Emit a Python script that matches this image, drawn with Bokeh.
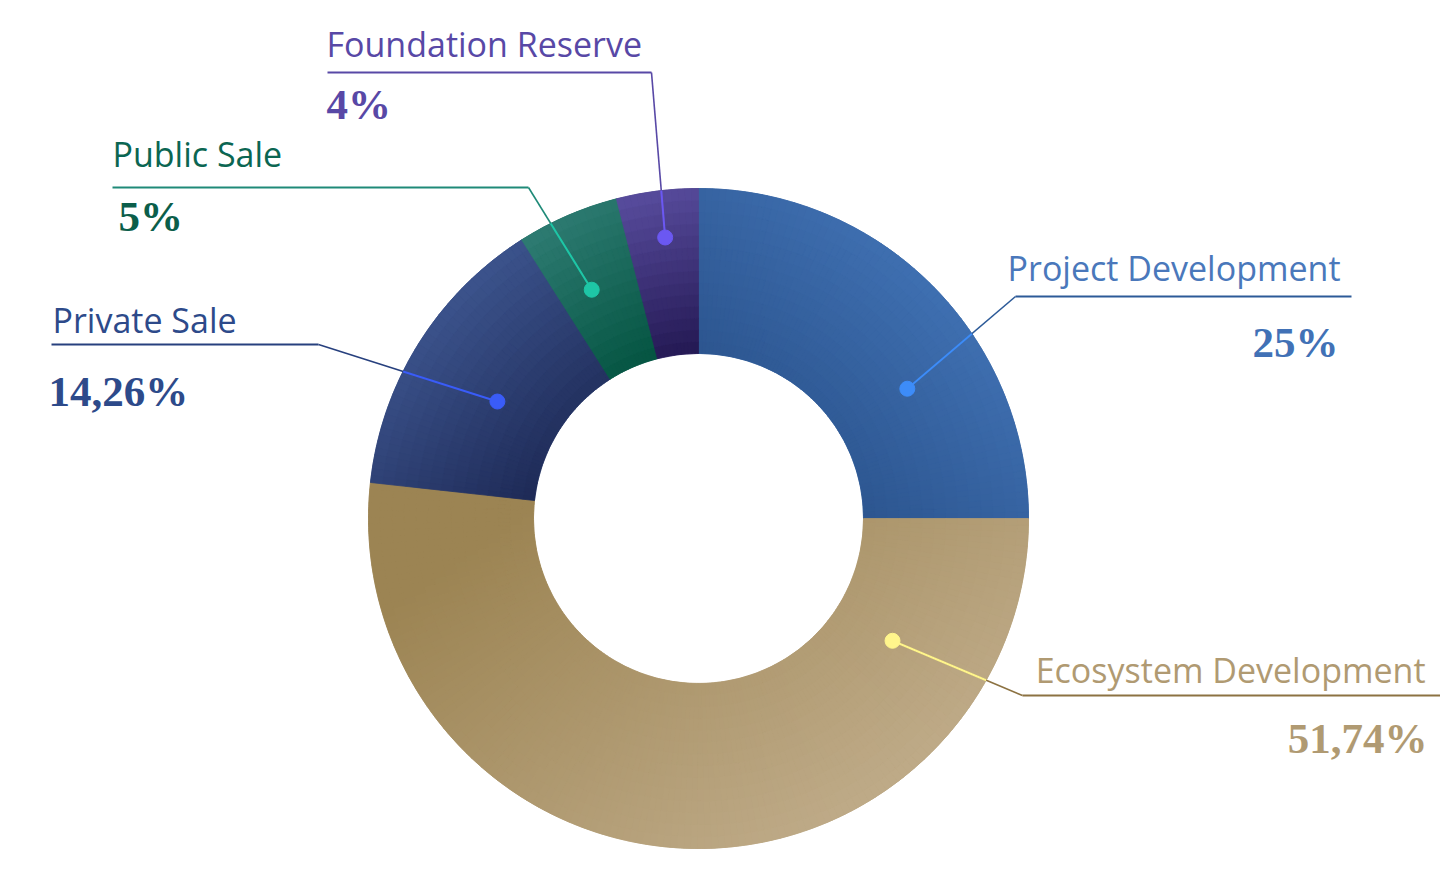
import numpy as np
from bokeh.plotting import figure
from bokeh.models import Range1d, ColumnDataSource
from bokeh.core.properties import value
from bokeh.embed import file_html
from bokeh.resources import INLINE

# ---------------- data ----------------
categories = ["Project Development", "Ecosystem Development", "Private Sale",
              "Public Sale", "Foundation Reserve"]
shares = [25.0, 51.74, 14.26, 5.0, 4.0]
pct_labels = ["25%", "51,74%", "14,26%", "5%", "4%"]

# ---------------- style ----------------
grad_c0 = ["#4b80c6", "#9c8453", "#4a67a6", "#36837c", "#5a4ea0"]   # colour at gradient start corner
grad_c1 = ["#22477d", "#c0ac8a", "#161f48", "#00503c", "#231852"]   # colour at opposite corner
grad_from = [(1.0, 1.0), (0.3, 1.0), (0.0, 1.0), (0.0, 1.0), (0.2, 1.0)]  # start corner (fx, fy) in bbox, y up
label_colors = ["#4a78bb", "#b09a72", "#2d4a8a", "#0b6652", "#5848a6"]
pct_colors = ["#4171b6", "#b09a72", "#2d4a8a", "#0b5e4a", "#5848a6"]
line_colors = ["#2c5a98", "#8c7242", "#27407e", "#1f8a78", "#5848a6"]
dot_colors = ["#3d8cf8", "#fff58c", "#3a5cf8", "#1ec6a6", "#6b58f2"]

# ---------------- layout (screen px) ----------------
W, H = 1440, 857
def sy(y):
    return 873 - y

LABEL_SHIFT = 13   # correction for baseline rendering
PCT_SHIFT = 12

CX, CY = 698, sy(518)
R_OUT, R_IN = 330, 165
dot_frac = [(0.646, 0.49), (0.173, 0.39), (0.466, 0.41), (0.41, 0.53), (0.53, 0.715)]
label_pos = [(1340, 280, "right"), (1425, 682, "right"), (52, 332, "left"),
             (112, 166, "left"), (326, 56, "left")]
pct_pos = [(1338, 354, "right"), (1427, 750, "right"), (48, 403, "left"),
           (118, 228, "left"), (326, 116, "left")]
underline = [(1351, 1015, 296), (1440, 1022, 695), (51, 318, 344),
             (112, 528, 187), (327, 651, 72)]   # (outer end x, elbow x, y)

p = figure(width=W, height=H, output_backend="svg", toolbar_location=None,
           x_range=Range1d(0, W), y_range=Range1d(sy(H), sy(0)),
           x_axis_location=None, y_axis_location=None, min_border=0,
           background_fill_color="white", border_fill_color="white")
p.grid.visible = False
p.outline_line_color = None


def hex2rgb(h):
    h = h.lstrip("#")
    return np.array([int(h[i:i + 2], 16) for i in (0, 2, 4)], dtype=float)


def rgb2hex(c):
    c = np.clip(np.round(c), 0, 255).astype(int)
    return "#%02x%02x%02x" % tuple(c)


total = sum(shares)
cum = 0.0
cells = dict(x=[], y=[], ir=[], orr=[], sa=[], ea=[], c=[])
base = dict(sa=[], ea=[], c=[])
slice_angles = []
for i, s in enumerate(shares):
    a_hi = np.pi / 2 - 2 * np.pi * cum / total
    a_lo = np.pi / 2 - 2 * np.pi * (cum + s) / total
    cum += s
    slice_angles.append((a_hi, a_lo))
    tt = np.linspace(a_lo, a_hi, 400)
    xs = np.concatenate([CX + R_OUT * np.cos(tt), CX + R_IN * np.cos(tt)])
    ys = np.concatenate([CY + R_OUT * np.sin(tt), CY + R_IN * np.sin(tt)])
    x0, x1, y0, y1 = xs.min(), xs.max(), ys.min(), ys.max()
    fx, fy = grad_from[i]
    p0 = np.array([x0 + fx * (x1 - x0), y0 + fy * (y1 - y0)])
    p1 = np.array([x0 + (1 - fx) * (x1 - x0), y0 + (1 - fy) * (y1 - y0)])
    dvec = p1 - p0
    L2 = dvec @ dvec
    c0, c1 = hex2rgb(grad_c0[i]), hex2rgb(grad_c1[i])
    base["sa"].append(a_lo)
    base["ea"].append(a_hi)
    base["c"].append(rgb2hex((c0 + c1) / 2))
    n_a = max(4, int(np.degrees(a_hi - a_lo) / 1.2))
    n_r = 14
    edges_a = np.linspace(a_lo, a_hi, n_a + 1)
    edges_r = np.linspace(R_IN, R_OUT, n_r + 1)
    for ia in range(n_a):
        am = 0.5 * (edges_a[ia] + edges_a[ia + 1])
        for ir in range(n_r):
            rm = 0.5 * (edges_r[ir] + edges_r[ir + 1])
            pt = np.array([CX + rm * np.cos(am), CY + rm * np.sin(am)])
            t = np.clip((pt - p0) @ dvec / L2, 0, 1)
            cells["x"].append(CX)
            cells["y"].append(CY)
            cells["ir"].append(edges_r[ir])
            cells["orr"].append(edges_r[ir + 1])
            cells["sa"].append(edges_a[ia])
            cells["ea"].append(edges_a[ia + 1])
            cells["c"].append(rgb2hex(c0 + t * (c1 - c0)))

p.annular_wedge(x=CX, y=CY, inner_radius=R_IN, outer_radius=R_OUT,
                start_angle="sa", end_angle="ea", fill_color="c", line_color="c",
                line_width=0.5, source=ColumnDataSource(base))
p.annular_wedge(x="x", y="y", inner_radius="ir", outer_radius="orr",
                start_angle="sa", end_angle="ea", fill_color="c", line_color="c",
                line_width=0.8, source=ColumnDataSource(cells))

# ---------------- leaders, dots and labels ----------------
for i, name in enumerate(categories):
    a_hi, a_lo = slice_angles[i]
    fa, fr = dot_frac[i]
    ang = a_hi - fa * (a_hi - a_lo)
    rad = R_IN + fr * (R_OUT - R_IN)
    dx, dy = CX + rad * np.cos(ang), CY + rad * np.sin(ang)
    xe, xb, yl = underline[i]
    ex, ey = xb, sy(yl)
    p.line([xe, xb], [sy(yl), sy(yl)], line_color=line_colors[i], line_width=2)
    p.line([ex, dx], [ey, dy], line_color=line_colors[i], line_width=1.6)
    d = np.array([dx, dy]); e = np.array([ex, ey]); c = np.array([CX, CY])
    v = e - d; w = d - c
    A = v @ v; B = 2 * (v @ w); C = w @ w - R_OUT ** 2
    tcross = (-B + np.sqrt(B * B - 4 * A * C)) / (2 * A)
    q = d + min(max(tcross, 0), 1) * v
    p.line([dx, q[0]], [dy, q[1]], line_color=dot_colors[i], line_width=2)
    p.scatter([dx], [dy], size=15, fill_color=dot_colors[i], line_color=dot_colors[i])

    lx, ly, al = label_pos[i]
    p.text([lx], [sy(ly) + LABEL_SHIFT], text=[name], text_align=al, text_baseline="alphabetic",
           text_font=value("Open Sans"), text_font_size="34px", text_color=label_colors[i])
    px_, py_, al2 = pct_pos[i]
    p.text([px_], [sy(py_) + PCT_SHIFT], text=[pct_labels[i]], text_align=al2, text_baseline="alphabetic",
           text_font=value("Liberation Serif"), text_font_size="43px",
           text_font_style="bold", text_color=pct_colors[i])

open("out.html", "w").write(file_html(p, INLINE))
